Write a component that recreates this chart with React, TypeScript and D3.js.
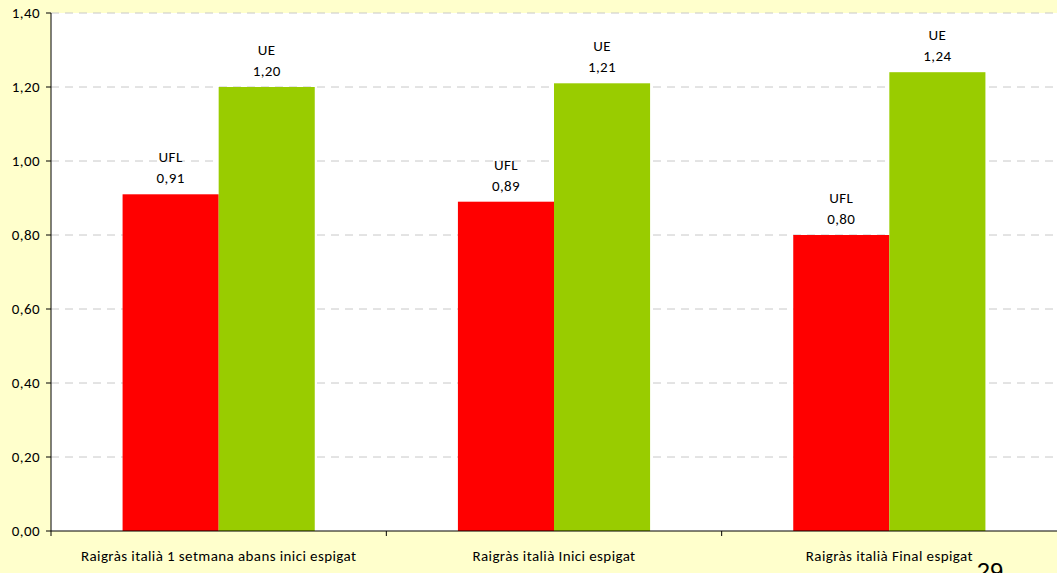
import React from "react";
import * as d3 from "d3";

const categories = [
  "Raigràs italià 1 setmana abans inici espigat",
  "Raigràs italià Inici espigat",
  "Raigràs italià Final espigat",
];
const seriesNames = ["UFL", "UE"];
const uflValues = [0.91, 0.89, 0.8];
const ueValues = [1.2, 1.21, 1.24];
const yTicks = [0, 0.2, 0.4, 0.6, 0.8, 1.0, 1.2, 1.4];
const colors = ["#FF0000", "#99CC00"];

export default function App() {
  const W = 1057, H = 573;
  const left = 51, right = 1057, top = 13, bottom = 531;
  const font = "Carlito, Lato, 'Open Sans', sans-serif";
  const fs = 15;
  const ls = 0.4;
  const x = d3.scaleBand<string>().domain(categories).range([left, right]).paddingInner(0).paddingOuter(0);
  const y = d3.scaleLinear().domain([0, 1.4]).range([bottom, top]);
  const inner = d3.scaleBand<string>().domain(seriesNames).range([0, x.bandwidth()]).paddingInner(0).paddingOuter(0.745);
  const series = [uflValues, ueValues];
  const fmt = (v: number) => v.toFixed(2).replace(".", ",");
  return (
    <svg width={W} height={H} style={{ position: "absolute", left: 0, top: 0 }}>
      <rect x={0} y={0} width={W} height={H} fill="#FFFFCC" />
      <rect x={left} y={top} width={right - left} height={bottom - top} fill="#FFFFFF" />
      {yTicks.map((t) => (
        <g key={t}>
          {t > 0 && (
            <line x1={left} x2={right} y1={y(t)} y2={y(t)} stroke="#C8C8C8" strokeWidth={1} strokeDasharray="8,6" />
          )}
          <line x1={left - 5} x2={left} y1={y(t)} y2={y(t)} stroke="#000" />
          <text x={left - 11} y={y(t)} dy="0.35em" textAnchor="end" fontFamily={font} fontSize={fs} letterSpacing={ls} fill="#000">
            {fmt(t)}
          </text>
        </g>
      ))}
      {categories.map((c, ci) =>
        seriesNames.map((s, si) => {
          const v = series[si][ci];
          const bx = (x(c) as number) + (inner(s) as number);
          const bw = inner.bandwidth();
          const cx = bx + bw / 2;
          return (
            <g key={c + s}>
              <rect x={bx} y={y(v)} width={bw} height={bottom - y(v)} fill={colors[si]} />
              <text x={cx} y={y(v) - 32} textAnchor="middle" fontFamily={font} fontSize={fs} letterSpacing={ls} fill="#000">{s}</text>
              <text x={cx} y={y(v) - 11} textAnchor="middle" fontFamily={font} fontSize={fs} letterSpacing={ls} fill="#000">{fmt(v)}</text>
            </g>
          );
        })
      )}
      <line x1={left} x2={left} y1={top} y2={bottom} stroke="#000" />
      <line x1={left} x2={right} y1={bottom} y2={bottom} stroke="#000" />
      {categories.map((c, i) => (
        <g key={c}>
          <line x1={x(c) as number} x2={x(c) as number} y1={bottom} y2={bottom + 5} stroke="#000" />
          <text x={(x(c) as number) + x.bandwidth() / 2} y={bottom + 30} textAnchor="middle" fontFamily={font} fontSize={fs} letterSpacing={ls} fill="#000">
            {c}
          </text>
        </g>
      ))}
      <text x={990} y={580} textAnchor="middle" fontFamily="'Liberation Sans', Arial, sans-serif" fontSize={24} fill="#000">29</text>
    </svg>
  );
}
